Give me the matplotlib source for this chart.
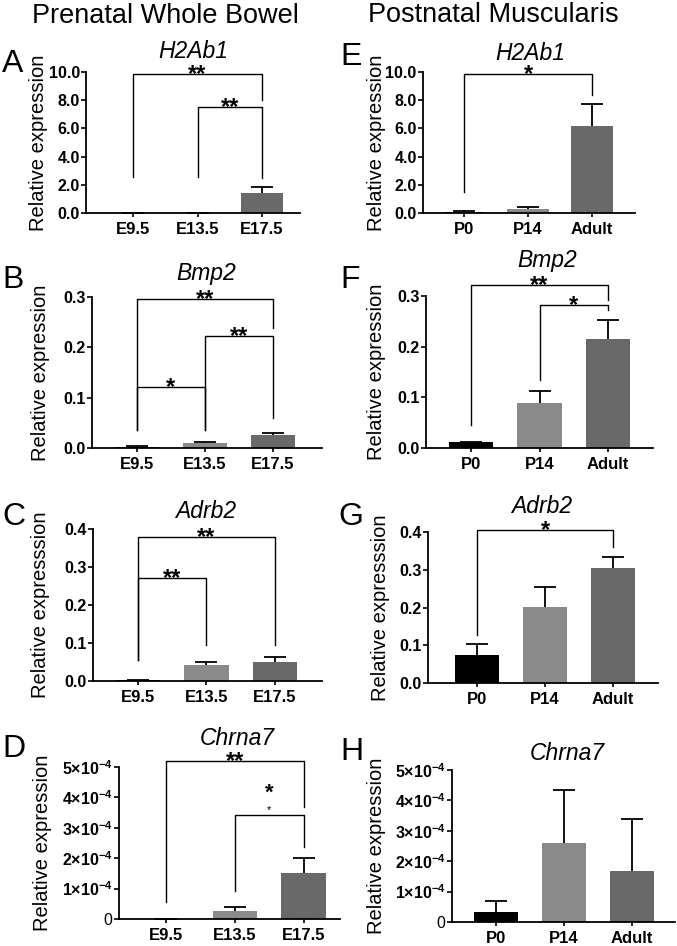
import numpy as np
import matplotlib
matplotlib.use("Agg")
import matplotlib.pyplot as plt

plt.rcParams['font.family'] = ['Liberation Sans', 'DejaVu Sans']
plt.rcParams['mathtext.fontset'] = 'custom'
plt.rcParams['mathtext.rm'] = 'Liberation Sans'
plt.rcParams['mathtext.bf'] = 'Liberation Sans:bold'

# categories
groups_pre = ['E9.5', 'E13.5', 'E17.5']
groups_post = ['P0', 'P14', 'Adult']
bar_colors = ['#000000', '#8a8a8a', '#696969']

# means and SEM (upper only)
h2ab1_pre = [0.004, 0.004, 1.44]
h2ab1_pre_err = [0.002, 0.002, 0.38]
bmp2_pre = [0.0026, 0.009, 0.026]
bmp2_pre_err = [0.0014, 0.003, 0.004]
adrb2_pre = [0.002, 0.041, 0.051]
adrb2_pre_err = [0.001, 0.008, 0.012]
chrna7_pre = [0.001e-4, 0.26e-4, 1.52e-4]
chrna7_pre_err = [0.0005e-4, 0.14e-4, 0.50e-4]

h2ab1_post = [0.07, 0.28, 6.17]
h2ab1_post_err = [0.05, 0.14, 1.56]
bmp2_post = [0.011, 0.088, 0.216]
bmp2_post_err = [0.001, 0.025, 0.036]
adrb2_post = [0.074, 0.202, 0.304]
adrb2_post_err = [0.028, 0.051, 0.029]
chrna7_post = [0.34e-4, 2.61e-4, 1.69e-4]
chrna7_post_err = [0.36e-4, 1.73e-4, 1.69e-4]

# significance brackets: (from, to, top, left leg end, right leg end, stars)
sig_a = [(0, 2, 9.86, 2.55, 8.0, '**'), (1, 2, 7.5, 2.55, 2.45, '**')]
sig_b = [(0, 2, 0.296, 0.036, 0.238, '**'), (1, 2, 0.222, 0.036, 0.06, '**'),
         (0, 1, 0.121, 0.036, 0.036, '*')]
sig_c = [(0, 2, 0.379, 0.055, 0.095, '**'), (0, 1, 0.27, 0.055, 0.095, '**')]
sig_d = [(0, 2, 5.2e-4, 0.56e-4, 3.68e-4, '**'), (1, 2, 3.42e-4, 0.92e-4, 2.37e-4, '*/*')]
sig_e = [(0, 2, 9.86, 1.5, 8.4, '*')]
sig_f = [(0, 2, 0.322, 0.045, 0.292, '**'), (1, 2, 0.282, 0.134, 0.272, '*')]
sig_g = [(0, 2, 0.405, 0.127, 0.36, '*')]
sig_h = []

W, H = 677, 946
fig = plt.figure(figsize=(W / 100, H / 100), dpi=100)


def add_ax(l, t, r, b):
    return fig.add_axes([l / W, 1 - b / H, (r - l) / W, (b - t) / H])


def sci_label(v):
    if v == 0:
        return '0'
    return r'$\mathbf{%d{\times}10^{-4}}$' % round(v * 1e4)


def panel(box, xlim, groups, vals, errs, ymax, yticks, ylabel_txt, gene, letter,
          letter_xy, title_xy, ylabel_x, sigs, sci=False):
    ax = add_ax(*box)
    x = np.arange(len(groups))
    ax.bar(x, vals, width=0.65, color=bar_colors, zorder=2)
    eb = ax.errorbar(x, vals, yerr=[np.zeros(len(vals)), errs], fmt='none',
                     ecolor='black', elinewidth=1.3, capsize=8, capthick=1.3, zorder=3)
    eb[1][0].set_visible(False)
    ax.set_xlim(*xlim)
    ax.set_ylim(0, ymax)
    for s in ['top', 'right']:
        ax.spines[s].set_visible(False)
    for s in ['left', 'bottom']:
        ax.spines[s].set_linewidth(1.3)
    ax.set_xticks(x, groups, fontsize=12, fontweight='bold')
    if sci:
        ax.set_yticks(yticks, [sci_label(v) for v in yticks], fontsize=11.5)
    else:
        ax.set_yticks(yticks, ['%.1f' % v for v in yticks], fontsize=11.5, fontweight='bold')
    ax.tick_params(axis='y', length=3.5, width=1.2, pad=1)
    ax.tick_params(axis='x', length=3, width=1.2, pad=3.5)

    for i, j, top, yl, yr, txt in sigs:
        ax.plot([x[i], x[i], x[j], x[j]], [yl, top, top, yr], color='black',
                lw=1.0, clip_on=False, zorder=4)
        xm = (x[i] + x[j]) / 2
        if txt == '*/*':
            # a large star with a smaller one beneath it
            ax.annotate('*', (xm, top), xytext=(0, 11.5), textcoords='offset points',
                        ha='center', va='baseline', fontsize=16, fontweight='bold',
                        annotation_clip=False)
            ax.annotate('*', (xm, top), xytext=(0, 1.5), textcoords='offset points',
                        ha='center', va='baseline', fontsize=8, annotation_clip=False)
        else:
            ax.annotate(txt, (xm, top), xytext=(0, -5), textcoords='offset points',
                        ha='center', va='baseline', fontsize=17, fontweight='bold',
                        annotation_clip=False)

    fig.text(title_xy[0] / W, 1 - title_xy[1] / H, gene, fontsize=16.5,
             style='italic', ha='center', va='baseline')
    fig.text(letter_xy[0] / W, 1 - letter_xy[1] / H, letter, fontsize=23,
             ha='left', va='baseline')
    yc = (box[1] + box[3]) / 2
    fig.text(ylabel_x / W, 1 - yc / H, ylabel_txt, fontsize=14.5, rotation=90,
             ha='center', va='center')
    return ax


lab = 'Relative expression'
lab3 = 'Relative expresssion'

panel((86, 72, 300, 213), (-0.73, 2.59), groups_pre, h2ab1_pre, h2ab1_pre_err, 10,
      [0, 2, 4, 6, 8, 10], lab, 'H2Ab1', 'A', (2, 72), (193, 58), 39, sig_a)
panel((92, 297, 322, 448), (-0.66, 2.72), groups_pre, bmp2_pre, bmp2_pre_err, 0.3,
      [0, 0.1, 0.2, 0.3], lab, 'Bmp2', 'B', (2, 288), (206, 280), 41, sig_b)
panel((93, 529, 322, 681), (-0.66, 2.69), groups_pre, adrb2_pre, adrb2_pre_err, 0.4,
      [0, 0.1, 0.2, 0.3, 0.4], lab3, 'Adrb2', 'C', (2, 525), (206, 518), 41, sig_c)
panel((119, 767, 340, 919), (-0.69, 2.53), groups_pre, chrna7_pre, chrna7_pre_err, 5e-4,
      [0, 1e-4, 2e-4, 3e-4, 4e-4, 5e-4], lab, 'Chrna7', 'D', (2, 757), (237, 745), 43,
      sig_d, sci=True)

panel((423, 72, 635, 213), (-0.64, 2.67), groups_post, h2ab1_post, h2ab1_post_err, 10,
      [0, 2, 4, 6, 8, 10], lab, 'H2Ab1', 'E', (340, 65), (530, 60), 377, sig_e)
panel((426, 296, 653, 448), (-0.66, 2.66), groups_post, bmp2_post, bmp2_post_err, 0.3,
      [0, 0.1, 0.2, 0.3], lab, 'Bmp2', 'F', (340, 288), (547, 267), 377, sig_f)
panel((428, 532, 658, 683), (-0.72, 2.66), groups_post, adrb2_post, adrb2_post_err, 0.4,
      [0, 0.1, 0.2, 0.3, 0.4], lab3, 'Adrb2', 'G', (338, 525), (542, 513), 381, sig_g)
panel((452, 770, 675, 922), (-0.65, 2.63), groups_post, chrna7_post, chrna7_post_err, 5e-4,
      [0, 1e-4, 2e-4, 3e-4, 4e-4, 5e-4], lab, 'Chrna7', 'H', (340, 760), (567, 760), 377,
      sig_h, sci=True)

fig.text(32 / W, 1 - 23 / H, 'Prenatal Whole Bowel', fontsize=19.5, ha='left', va='baseline')
fig.text(368 / W, 1 - 22 / H, 'Postnatal Muscularis', fontsize=19.5, ha='left', va='baseline')

fig.savefig('out.png', dpi=100)
